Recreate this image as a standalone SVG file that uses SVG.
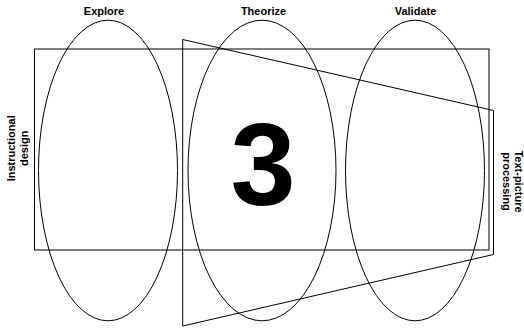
<svg xmlns="http://www.w3.org/2000/svg" width="524" height="329" viewBox="0 0 524 329">
<style>
.s{fill:none;stroke:#000;stroke-width:1}
.l{font-family:"Liberation Sans",Arial,sans-serif;font-weight:bold;font-size:11px;fill:#000;text-anchor:middle}
.big{font-family:"Liberation Sans",Arial,sans-serif;font-weight:bold;font-size:117px;fill:#000;text-anchor:middle}
</style>
<rect width="524" height="329" fill="#fff"/>
<g id="instructional-design">
<rect class="s" x="34.5" y="49" width="454.5" height="201"/>
<text class="l" transform="translate(15.3,148.3) rotate(-90)"><tspan x="0" y="0">Instructional</tspan><tspan x="0" y="13">design</tspan></text>
</g>
<g id="text-picture-processing">
<polygon class="s" points="182.7,39.5 493.5,110.5 493.5,254.5 182.7,326"/>
<text class="l" transform="translate(515,181.5) rotate(90)"><tspan x="0" y="0">Text-picture</tspan><tspan x="0" y="12">processing</tspan></text>
</g>
<g id="explore">
<ellipse class="s" cx="108" cy="170.5" rx="69.5" ry="150.3"/>
<text class="l" x="104" y="14.5">Explore</text>
</g>
<g id="theorize">
<ellipse class="s" cx="262" cy="170.5" rx="74" ry="150.3"/>
<text class="l" x="263.5" y="14.5">Theorize</text>
</g>
<g id="validate">
<ellipse class="s" cx="415" cy="170.5" rx="69.5" ry="150.3"/>
<text class="l" x="415.5" y="14.5">Validate</text>
</g>
<g id="number">
<text class="big" x="263" y="205">3</text>
</g>
<g id="connectors"/>
</svg>
